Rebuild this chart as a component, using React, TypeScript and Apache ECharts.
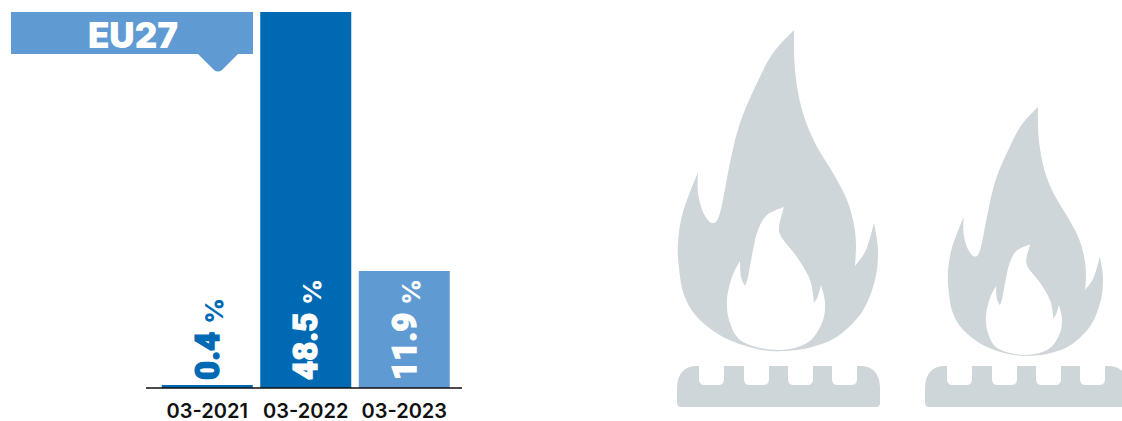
import React, { useEffect, useRef } from "react";
import * as echarts from "echarts";

const categories = ["03-2021", "03-2022", "03-2023"];
const valueLabels = ["0.4", "48.5", "11.9"];
// Heights as drawn in the picture (the 03-2023 bar is taller than its label would imply)
const drawnValues = [0.4, 48.5, 15.1];
const barColors = ["#0069b4", "#0069b4", "#5f9bd2"];
const labelColors = ["#0069b4", "#ffffff", "#ffffff"];
const calloutText = "EU27";

type P = [number, number];

function smooth(points: P[]): string {
  let d = "";
  for (let i = 0; i < points.length - 1; i++) {
    const p0 = points[Math.max(0, i - 1)];
    const p1 = points[i];
    const p2 = points[i + 1];
    const p3 = points[Math.min(points.length - 1, i + 2)];
    const c1: P = [p1[0] + (p2[0] - p0[0]) / 6, p1[1] + (p2[1] - p0[1]) / 6];
    const c2: P = [p2[0] - (p3[0] - p1[0]) / 6, p2[1] - (p3[1] - p1[1]) / 6];
    d += `C${c1[0]} ${c1[1]} ${c2[0]} ${c2[1]} ${p2[0]} ${p2[1]}`;
  }
  return d;
}

function closedShape(segments: P[][]): string {
  return `M${segments[0][0][0]} ${segments[0][0][1]}` + segments.map(smooth).join("") + "Z";
}

const flameOuter: P[][] = [
  [[794, 30], [795, 70], [802, 110], [815, 143], [833, 173], [847, 200], [854, 225], [856, 245], [855, 266]],
  [[855, 266], [866, 250], [874, 223]],
  [[874, 223], [878, 250], [875, 280], [862, 312], [838, 336], [812, 347], [785, 351], [757, 349], [725, 338], [698, 318], [684, 295], [679, 268], [678, 243], [683, 212], [698, 172]],
  [[698, 172], [698, 193], [703, 212], [712, 223], [720, 213], [730, 163], [740, 123], [757, 83], [773, 53], [794, 30]],
];
const flameInner: P[][] = [
  [[784, 207], [779, 227], [782, 238], [797, 257], [810, 280], [814, 303]],
  [[814, 303], [818, 296], [821, 285]],
  [[821, 285], [825, 303], [822, 323], [807, 343], [777, 350], [743, 342], [730, 323], [727, 300], [732, 277], [740, 261]],
  [[740, 261], [741, 277], [745, 286]],
  [[745, 286], [748, 277], [753, 250], [758, 230], [767, 215], [784, 207]],
];

const notch = (x: number) =>
  `L${x} 366L${x} 379Q${x} 385 ${x + 6} 385L${x + 19} 385Q${x + 25} 385 ${x + 25} 379L${x + 25} 366`;
const burnerPath =
  "M677 403L677 387Q678 366 697 366" +
  [699, 744, 788, 832].map(notch).join("") +
  "L860 366Q879 366 880 387L880 403Q880 407 876 407L681 407Q677 407 677 403Z";

const pointerPath = "M197 53L239 53L222 70Q218 73 214 70Z";

echarts.graphic.registerShape("flame", echarts.graphic.extendPath(closedShape(flameOuter), {}) as any);
echarts.graphic.registerShape("flameInner", echarts.graphic.extendPath(closedShape(flameInner), {}) as any);
echarts.graphic.registerShape("burner", echarts.graphic.extendPath(burnerPath, {}) as any);
echarts.graphic.registerShape("pointer", echarts.graphic.extendPath(pointerPath, {}) as any);

const GREY = "#cfd6d9";
const LIGHT = "#5f9bd2";

export default function App() {
  const ref = useRef<HTMLDivElement>(null);
  useEffect(() => {
    const chart = echarts.init(ref.current!, undefined, { renderer: "svg" });
    chart.setOption({
      animation: false,
      backgroundColor: "#ffffff",
      grid: { left: 158, width: 295.5, top: 12, height: 376, outerBoundsMode: "none" },
      xAxis: {
        type: "category",
        data: categories,
        axisLine: { show: false },
        axisTick: { show: false },
        axisLabel: {
          margin: 14.5,
          lineHeight: 16,
          fontFamily: "Inter",
          fontWeight: 600,
          fontSize: 20,
          color: "#111111",
          interval: 0,
        },
      },
      yAxis: { type: "value", min: 0, max: 48.5, show: false },
      series: [
        {
          type: "bar",
          barWidth: 91,
          data: drawnValues.map((value, i) => ({
            value,
            itemStyle: { color: barColors[i] },
            label: {
              show: true,
              position: "insideBottom",
              distance: 8,
              rotate: 90,
              align: "left",
              verticalAlign: "middle",
              formatter: `{n|${valueLabels[i]}}{s| }{p|%}`,
              rich: {
                n: {
                  fontFamily: "Roboto",
                  fontWeight: 900,
                  fontSize: 33,
                  lineHeight: 38,
                  color: labelColors[i],
                  textBorderColor: labelColors[i],
                  textBorderWidth: 1.2,
                },
                s: { fontFamily: "Roboto", fontSize: 9, width: 8, lineHeight: 9 },
                p: { fontFamily: "Inter", fontWeight: 800, fontSize: 25, lineHeight: 24, verticalAlign: "bottom", color: labelColors[i] },
              },
            },
          })),
        },
      ],
      graphic: [
        { type: "line", z: 10, shape: { x1: 146, y1: 388, x2: 462, y2: 388 }, style: { stroke: "#111111", lineWidth: 1.5 } },
        { type: "rect", shape: { x: 11, y: 12, width: 242, height: 42 }, style: { fill: LIGHT } },
        { type: "pointer", style: { fill: LIGHT } },
        {
          type: "text",
          x: 133,
          y: 34.5,
          style: { text: calloutText, fill: "#ffffff", fontFamily: "Inter", fontWeight: 900, fontSize: 35, align: "center", verticalAlign: "middle" },
        },
        { type: "flame", style: { fill: GREY } },
        { type: "flameInner", style: { fill: "#ffffff" } },
        { type: "burner", style: { fill: GREY } },
        { type: "flame", x: 422.55, y: 83.75, scaleX: 0.775, scaleY: 0.775, style: { fill: GREY } },
        { type: "flameInner", x: 422.55, y: 83.75, scaleX: 0.775, scaleY: 0.775, style: { fill: "#ffffff" } },
        { type: "burner", x: 248, style: { fill: GREY } },
      ],
    });
    return () => chart.dispose();
  }, []);
  return <div ref={ref} style={{ position: "absolute", left: 0, top: 0, width: 1122, height: 421 }} />;
}
